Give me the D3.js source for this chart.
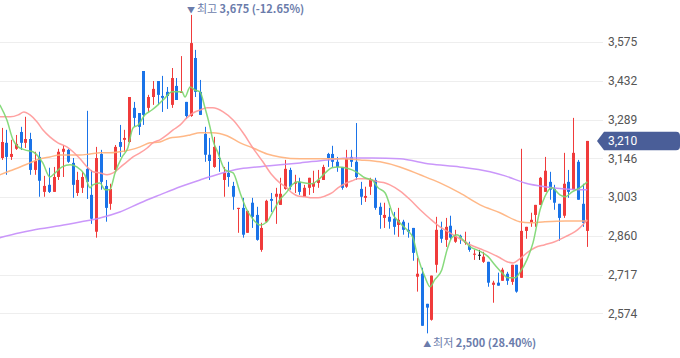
<!DOCTYPE html>
<html><head><meta charset="utf-8">
<script src="https://cdn.jsdelivr.net/npm/d3@7"></script>
<style>body{margin:0;background:#fff}svg{display:block}</style>
</head><body><svg id="c" width="680" height="358"></svg>
<script>
// ---- data ----
const opens=[3147,3203,3151,3181,3243,3203,3217,3103,3151,3022,3048,3022,3077,3170,3177,3129,3018,3037,3107,3011,2875,3162,3044,2978,3103,3206,3214,3206,3332,3313,3468,3332,3372,3431,3376,3391,3343,3413,3387,3354,3302,3516,3391,3236,3159,3114,3147,3066,3092,3044,2959,2963,2871,2982,2937,2808,2912,2996,3004,2974,3033,3103,3052,3059,3004,3037,3041,3055,3066,3162,3162,3133,3114,3041,3151,3133,3033,3000,3041,3066,2967,2926,2930,2923,2900,2912,2882,2889,2709,2720,2609,2550,2753,2882,2845,2897,2838,2860,2834,2823,2790,2790,2764,2764,2679,2687,2694,2720,2690,2753,2705,2878,2908,2937,2974,3022,3059,3033,2978,2934,3059,3030,3133,2978,2878];
const highs=[3258,3251,3214,3232,3262,3299,3240,3170,3170,3081,3111,3114,3181,3195,3181,3147,3096,3096,3321,3103,3188,3177,3066,3052,3195,3269,3251,3372,3354,3313,3468,3380,3431,3431,3450,3409,3479,3442,3523,3354,3675,3546,3435,3262,3221,3225,3192,3114,3133,3059,2963,3000,2952,3000,2967,2908,2993,3018,3037,3074,3140,3111,3085,3074,3048,3074,3100,3103,3122,3166,3192,3151,3114,3177,3177,3276,3059,3041,3074,3074,2982,2982,2963,2948,2963,2919,2908,2889,2779,2742,2609,2713,2930,2912,2926,2934,2882,2864,2875,2838,2808,2808,2801,2764,2694,2724,2742,2727,2753,2753,3181,2893,2945,2974,3077,3151,3096,3048,2978,3166,3103,3295,3140,3052,3210];
const lows=[3140,3085,3140,3177,3177,3184,3085,3085,3004,3004,3018,3022,3066,3077,3129,3000,3007,3018,2996,2904,2853,3030,2912,2956,3096,3151,3170,3203,3262,3232,3269,3317,3343,3343,3317,3328,3332,3361,3387,3291,3299,3372,3306,3133,3066,3111,3096,3004,3041,2956,2871,2853,2871,2889,2842,2801,2908,2948,2904,2974,3030,3030,3018,3011,3004,3011,3018,3037,3066,3114,3114,3096,3030,3037,3114,3066,2974,2985,3011,2956,2886,2889,2886,2864,2856,2864,2853,2768,2654,2528,2500,2547,2724,2834,2819,2845,2834,2830,2827,2801,2771,2771,2760,2672,2613,2676,2694,2679,2679,2650,2705,2849,2893,2893,2974,3022,2993,2956,2842,2926,3000,3030,2993,2893,2819];
const closes=[3206,3151,3162,3199,3203,3217,3103,3136,3063,3044,3022,3077,3170,3181,3133,3048,3066,3077,3059,2923,3147,3059,2963,3033,3188,3188,3221,3372,3295,3262,3306,3372,3402,3380,3369,3376,3442,3361,3391,3302,3571,3391,3306,3159,3136,3188,3144,3092,3077,3004,2963,2864,2952,2930,2845,2889,2989,2989,3015,3015,3107,3041,3059,3022,3037,3074,3055,3066,3114,3147,3133,3114,3037,3147,3133,3077,3004,3007,3066,2963,2937,2937,2912,2893,2919,2882,2875,2797,2720,2528,2595,2713,2882,2849,2893,2853,2860,2853,2838,2808,2794,2790,2783,2687,2687,2676,2735,2694,2753,2654,2878,2893,2919,2974,3074,3100,3030,2982,2926,3052,3022,3166,2993,2908,3210];
// moving averages: [day index, value]
const ma5=[[-0.4,3343],[1.1,3287],[2.4,3214],[3.5,3188],[4.9,3177],[6.6,3170],[8.7,3129],[10.2,3077],[11.3,3092],[12.8,3114],[14.5,3122],[15.9,3114],[17.6,3085],[18.7,3037],[19.3,3048],[20.8,3055],[21.9,3030],[22.9,3030],[24,3092],[25.5,3151],[26.7,3184],[27.8,3258],[28.9,3269],[30.3,3306],[31.8,3324],[33.1,3343],[34.6,3369],[36.1,3391],[37.3,3391],[38.2,3391],[38.8,3372],[39.9,3409],[40.9,3398],[42,3391],[43,3335],[44.1,3262],[44.7,3214],[45.8,3166],[47.3,3103],[49,3092],[50.5,3018],[51.9,2956],[53,2926],[54.7,2900],[56.2,2912],[57.4,2948],[58.9,2993],[60.4,3022],[61.5,3048],[62.7,3059],[64.2,3055],[65.7,3052],[67,3066],[68.5,3092],[69.9,3111],[71.2,3114],[72.7,3111],[74.2,3103],[75.4,3092],[76.9,3074],[78.4,3066],[79.7,3037],[81.2,3018],[82.9,2937],[84.3,2908],[85.8,2882],[87.1,2852],[88.1,2783],[89.6,2709],[90.7,2672],[91.7,2698],[93.2,2735],[94.3,2808],[95.3,2853],[96.4,2864],[97.7,2845],[99.2,2819],[100.6,2808],[101.9,2797],[103,2783],[104.4,2753],[105.9,2724],[107.2,2705],[108.7,2705],[109.7,2724],[111.2,2771],[112.5,2834],[114,2956],[115,3004],[116.5,3037],[118.2,3011],[119.3,3004],[120.8,3022],[122.4,3037],[124,3059]];
const ma20=[[-0.4,3299],[1.8,3299],[3.5,3306],[4.7,3317],[6,3306],[7.5,3280],[8.7,3251],[10.2,3225],[11.9,3203],[13.8,3188],[15.1,3170],[16.6,3144],[18.1,3114],[19.3,3096],[20.8,3092],[22.3,3085],[23.6,3092],[25,3111],[26.5,3133],[27.8,3151],[29.3,3166],[30.8,3184],[32,3203],[33.5,3214],[35,3232],[36.3,3251],[37.8,3269],[39.2,3295],[40.5,3313],[42,3324],[43.5,3332],[44.7,3332],[46.9,3317],[49,3287],[51.1,3240],[53.2,3184],[55.3,3133],[57.2,3085],[58.9,3055],[60.4,3037],[61.5,3018],[62.7,3007],[64.2,3004],[65.7,3000],[67,3000],[68.5,3007],[69.9,3018],[71.2,3037],[72.7,3052],[74.2,3063],[75.4,3070],[76.9,3070],[78.4,3066],[79.7,3059],[81.2,3055],[82.2,3048],[84.3,3026],[86.5,2993],[88.6,2956],[90.7,2923],[92.8,2893],[94.9,2871],[97,2849],[99.2,2827],[101.3,2812],[103.4,2797],[105.5,2779],[107,2764],[108.3,2760],[109.7,2775],[111.2,2797],[112.9,2816],[115,2827],[117.1,2838],[119.3,2856],[121.4,2875],[122.4,2889],[124,2919]];
const ma60=[[-0.4,3085],[1.8,3100],[3.9,3114],[6,3129],[8.1,3144],[10.2,3151],[12.3,3158],[14.5,3158],[16.6,3158],[18.7,3162],[20.8,3166],[22.9,3166],[25,3170],[27.2,3177],[29.3,3188],[31.4,3203],[33.5,3206],[35.6,3221],[37.8,3225],[39.9,3232],[42,3240],[44.7,3240],[47.7,3229],[50.5,3203],[53.2,3184],[56.2,3162],[58.9,3151],[63.2,3144],[67.4,3144],[71.6,3144],[75.9,3140],[80.1,3133],[84.3,3114],[88.6,3085],[92.8,3055],[97,3018],[101.3,2974],[105.5,2945],[109.7,2912],[111.9,2908],[115,2912],[119.3,2915],[124,2915]];
const ma120=[[-0.4,2853],[3.9,2871],[8.1,2886],[12.3,2897],[16.6,2911],[20.8,2926],[25,2948],[29.3,2981],[33.5,3011],[37.8,3041],[42,3066],[46.2,3089],[50.5,3107],[56.8,3118],[63.2,3129],[68.9,3140],[73.7,3147],[78.6,3147],[84.3,3144],[90.7,3125],[97,3114],[103.4,3096],[106.6,3081],[110.8,3055],[115,3041],[119.3,3033],[124,3030]];
const yTicks=[2574,2717,2860,3003,3146,3289,3432,3575];
const highLabel=["최고","3,675 (-12.65%)"];
const lowLabel=["최저","2,500 (28.40%)"];
const lastPrice=3210;

// ---- chart ----
const svg=d3.select("#c");
const n=closes.length;
const x=d3.scaleLinear().domain([0,n-1]).range([1.7,587.3]);
const y=d3.scaleLinear().domain([2574,3575]).range([313.3,42]);
const RED="#f03b3b",BLUE="#1a73e8";

// grid
svg.append("g").selectAll("line").data(yTicks).join("line")
  .attr("x1",0).attr("x2",603)
  .attr("y1",d=>Math.round(y(d))+0.5).attr("y2",d=>Math.round(y(d))+0.5)
  .attr("stroke","#eeeeee").attr("stroke-width",1);

// axis labels
const ax=svg.append("g").attr("transform","translate(603,0)")
  .call(d3.axisRight(y).tickValues(yTicks).tickFormat(d3.format(",")).tickSize(0).tickPadding(5));
ax.select(".domain").remove();
ax.selectAll("text").attr("font-family","Roboto, 'Noto Sans', sans-serif").attr("font-size",12).attr("fill","#555");

// candles
const idx=d3.range(n);
const col=i=>closes[i]>opens[i]?RED:(closes[i]<opens[i]?BLUE:"#222");
const cg=svg.append("g");
cg.selectAll("line").data(idx).join("line")
  .attr("x1",i=>Math.round(x(i))+0.5).attr("x2",i=>Math.round(x(i))+0.5)
  .attr("y1",i=>y(highs[i])).attr("y2",i=>y(lows[i]))
  .attr("stroke",col).attr("stroke-width",1);
cg.selectAll("rect").data(idx).join("rect")
  .attr("x",i=>Math.round(x(i))-1).attr("width",3)
  .attr("y",i=>y(Math.max(opens[i],closes[i])))
  .attr("height",i=>Math.max(1,Math.abs(y(opens[i])-y(closes[i]))))
  .attr("fill",col);

// moving averages
const line=d3.line().x(d=>x(d[0])).y(d=>y(d[1])).curve(d3.curveMonotoneX);
[[ma120,"#c48cfa"],[ma60,"#ffb07a"],[ma20,"#ff9797"],[ma5,"#7ad66e"]].forEach(([data,c])=>{
  svg.append("path").datum(data).attr("d",line).attr("fill","none")
    .attr("stroke",c).attr("stroke-width",1.5).attr("stroke-opacity",0.9).attr("stroke-linejoin","round");
});

// high / low annotations
const iMax=d3.maxIndex(highs), iMin=d3.minIndex(lows);
const annC="#6b7cab";
function ann(i,yy,sym,lab){
  const t=svg.append("text").attr("x",x(i)-3.5).attr("y",yy)
    .attr("font-family","'Noto Sans CJK KR','Noto Sans',sans-serif").attr("font-size",11).attr("fill",annC);
  t.append("tspan").attr("font-size",8).text(sym+" ");
  t.append("tspan").text(lab[0]+" ");
  t.append("tspan").attr("font-weight","bold").text(lab[1]);
}
ann(iMax,13,"▼",highLabel);
ann(iMin,347,"▲",lowLabel);

// last price tag
const ly=y(lastPrice);
svg.append("path")
  .attr("d",`M597,${ly} L604,${ly-9.3} L676,${ly-9.3} Q680,${ly-9.3} 680,${ly-5} L680,${ly+5} Q680,${ly+9.3} 676,${ly+9.3} L604,${ly+9.3} Z`)
  .attr("fill","#4a5e98");
svg.append("text").attr("x",608).attr("y",ly).attr("dy","0.35em")
  .attr("font-family","Roboto, 'Noto Sans', sans-serif").attr("font-size",12).attr("fill","#fff")
  .text(d3.format(",")(lastPrice));
</script></body></html>
